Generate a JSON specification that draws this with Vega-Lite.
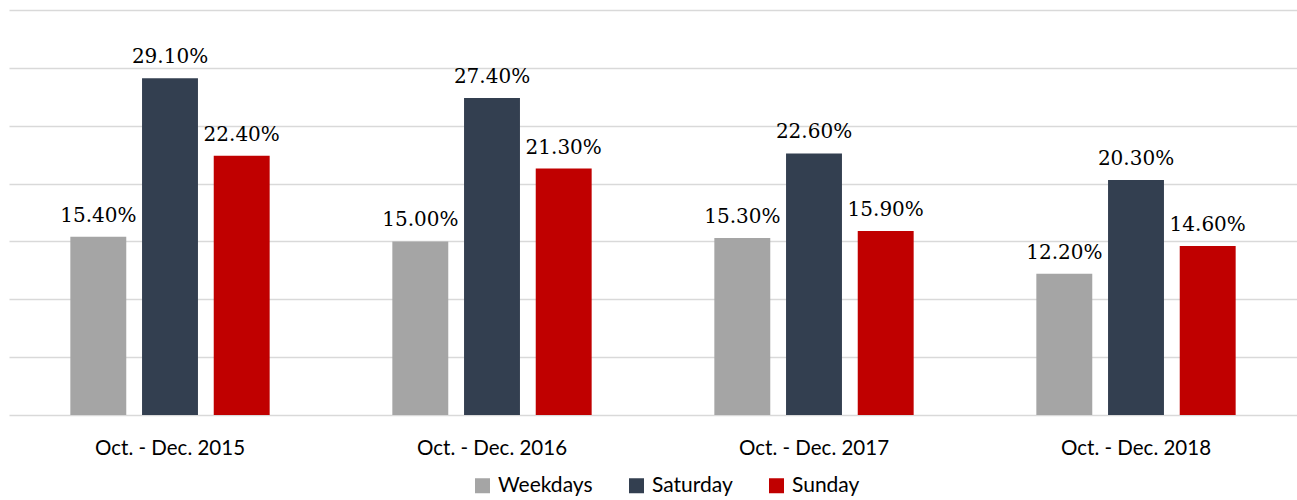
{
  "$schema": "https://vega.github.io/schema/vega-lite/v6.json",
  "width": 1288,
  "height": 405,
  "padding": {"left": 9, "top": 10, "right": 0, "bottom": 5},
  "background": "white",
  "data": {"values": [
    {"period": "Oct. - Dec. 2015", "day": "Weekdays", "share": 0.154},
    {"period": "Oct. - Dec. 2015", "day": "Saturday", "share": 0.291},
    {"period": "Oct. - Dec. 2015", "day": "Sunday", "share": 0.224},
    {"period": "Oct. - Dec. 2016", "day": "Weekdays", "share": 0.150},
    {"period": "Oct. - Dec. 2016", "day": "Saturday", "share": 0.274},
    {"period": "Oct. - Dec. 2016", "day": "Sunday", "share": 0.213},
    {"period": "Oct. - Dec. 2017", "day": "Weekdays", "share": 0.153},
    {"period": "Oct. - Dec. 2017", "day": "Saturday", "share": 0.226},
    {"period": "Oct. - Dec. 2017", "day": "Sunday", "share": 0.159},
    {"period": "Oct. - Dec. 2018", "day": "Weekdays", "share": 0.122},
    {"period": "Oct. - Dec. 2018", "day": "Saturday", "share": 0.203},
    {"period": "Oct. - Dec. 2018", "day": "Sunday", "share": 0.146}
  ]},
  "encoding": {
    "x": {
      "field": "period", "type": "nominal",
      "scale": {"paddingInner": 0.332, "paddingOuter": 0.166},
      "axis": {"title": null, "labelAngle": 0, "ticks": false, "domain": false,
               "labelFont": "Lato", "labelFontSize": 20.5, "labelColor": "#000000",
               "labelPadding": 23, "grid": false}
    },
    "xOffset": {"field": "day", "type": "nominal", "sort": ["Weekdays", "Saturday", "Sunday"],
                "scale": {"paddingInner": 0.22, "paddingOuter": 0.11}},
    "y": {
      "field": "share", "type": "quantitative",
      "scale": {"domain": [0, 0.35], "nice": false},
      "axis": {"title": null, "labels": false, "ticks": false, "domain": false,
               "grid": true, "gridColor": "#d9d9d9", "gridWidth": 1.5,
               "values": [0, 0.05, 0.1, 0.15, 0.2, 0.25, 0.3, 0.35]}
    }
  },
  "layer": [
    {
      "mark": {"type": "bar"},
      "encoding": {
        "color": {
          "field": "day", "type": "nominal",
          "sort": ["Weekdays", "Saturday", "Sunday"],
          "scale": {"domain": ["Weekdays", "Saturday", "Sunday"], "range": ["#a5a5a5", "#333f50", "#c00000"]},
          "legend": {"title": null, "orient": "none", "legendX": 463, "legendY": 465,
                     "direction": "horizontal",
                     "symbolType": "square", "symbolSize": 225, "symbolStrokeWidth": 0,
                     "labelFont": "Lato", "labelFontSize": 21, "labelColor": "#000000",
                     "columnPadding": 33, "symbolOffset": 0, "labelOffset": 5}
        }
      }
    },
    {
      "mark": {"type": "text", "baseline": "bottom", "dy": -11, "font": "DejaVu Serif", "fontSize": 20, "color": "#000000"},
      "encoding": {
        "text": {"field": "share", "type": "quantitative", "format": ".2%"}
      }
    }
  ],
  "config": {"view": {"stroke": null}}
}
